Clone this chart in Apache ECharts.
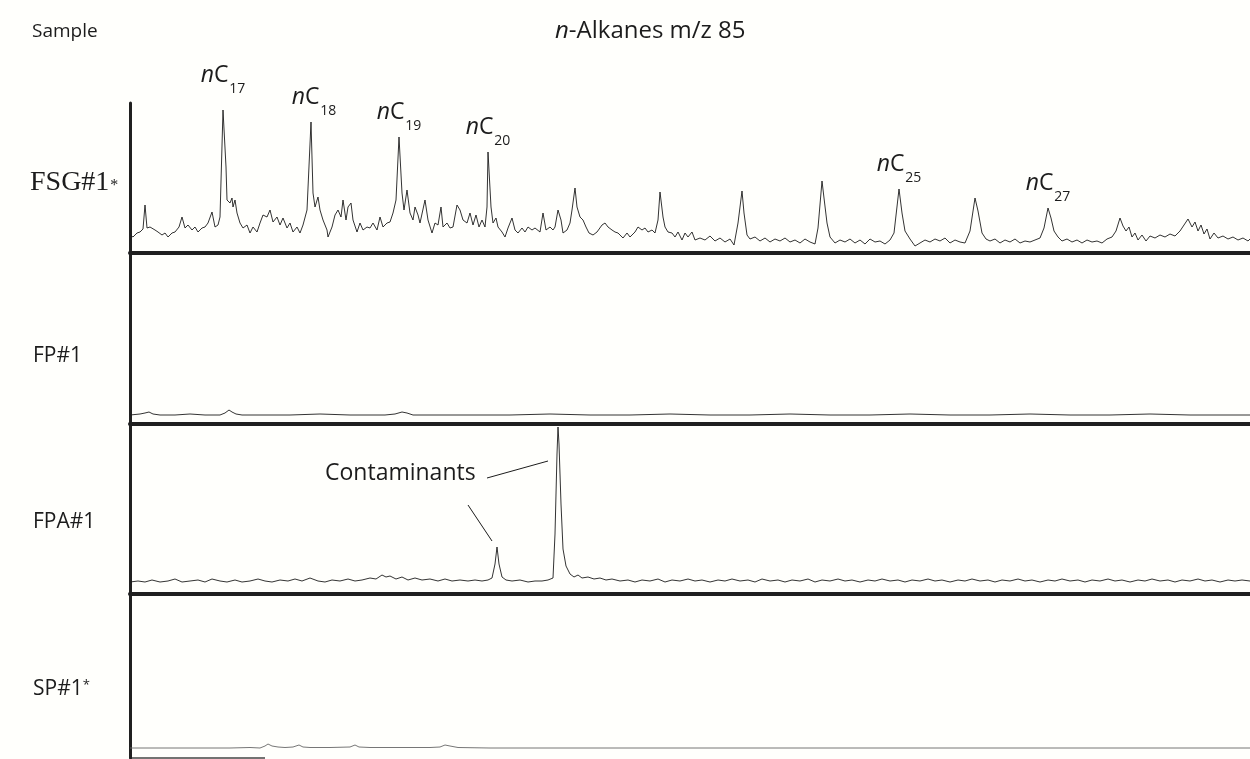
<!DOCTYPE html>
<html>
<head>
<meta charset="utf-8">
<title>n-Alkanes m/z 85</title>
<script src="https://cdn.jsdelivr.net/npm/echarts@6.0.0/dist/echarts.min.js"></script>
<style>
  html, body { margin: 0; padding: 0; background: #fffffc; }
  #chart { width: 1250px; height: 759px; }
</style>
</head>
<body>
<div id="chart"></div>
<script>
// [scan position, m/z 85 abundance]
const fsgTrace = [[0,18],[3,16],[7,20],[10,21],[13,24],[15,48],[17,25],[20,26],[25,23],[28,21],[32,18],[35,20],[38,16],[42,20],[45,21],[49,26],[52,36],[55,25],[58,28],[62,23],[65,26],[68,21],[72,25],[75,26],[78,30],[82,41],[85,26],[88,28],[90,36],[93,143],[96,86],[97,53],[100,50],[102,55],[103,46],[105,53],[107,40],[110,30],[113,25],[117,28],[120,20],[123,26],[127,21],[130,30],[133,38],[137,36],[140,43],[143,31],[147,36],[150,28],[153,35],[157,25],[160,30],[163,21],[167,26],[170,20],[173,28],[177,43],[181,131],[183,60],[185,46],[188,56],[190,43],[193,33],[197,23],[198,16],[202,26],[205,38],[208,43],[211,36],[213,53],[216,33],[218,46],[221,50],[223,33],[227,21],[230,30],[233,23],[237,26],[240,25],[243,30],[247,23],[250,36],[253,26],[257,30],[260,31],[263,40],[266,53],[269,116],[272,60],[274,43],[277,63],[280,40],[283,33],[285,46],[288,38],[290,30],[295,53],[298,33],[302,20],[305,30],[308,28],[311,46],[313,26],[317,30],[320,25],[323,26],[327,48],[330,43],[333,33],[337,30],[340,40],[343,28],[346,38],[349,26],[352,33],[355,26],[357,46],[358,101],[361,46],[363,30],[366,35],[368,26],[372,21],[375,16],[378,25],[382,35],[385,23],[388,20],[392,25],[395,21],[398,26],[402,23],[405,25],[410,21],[413,40],[416,23],[420,26],[423,23],[425,26],[428,43],[431,33],[433,20],[437,23],[440,30],[442,43],[445,65],[447,46],[450,36],[453,33],[456,26],[459,20],[463,18],[467,21],[472,28],[475,30],[478,26],[482,23],[485,21],[488,20],[493,15],[497,20],[500,16],[505,21],[508,26],[512,23],[515,25],[518,21],[522,23],[525,20],[528,33],[530,61],[533,36],[535,26],[538,21],[542,20],[545,16],[548,21],[552,13],[555,20],[558,16],[562,21],[565,13],[570,15],[575,13],[580,17],[585,12],[590,15],[595,11],[600,14],[604,8],[608,30],[612,62],[614,40],[617,18],[620,14],[625,16],[630,12],[635,15],[640,11],[645,14],[650,12],[655,15],[660,11],[665,13],[670,10],[675,14],[680,11],[685,9],[688,25],[692,72],[694,55],[697,30],[700,16],[705,10],[710,13],[715,11],[720,14],[725,10],[730,13],[735,9],[740,14],[745,11],[750,12],[755,9],[760,13],[764,20],[769,64],[772,40],[775,22],[780,14],[785,7],[790,10],[795,13],[800,11],[805,14],[810,12],[815,15],[820,10],[825,13],[830,11],[835,10],[840,22],[845,55],[848,42],[852,20],[856,14],[860,12],[865,14],[870,10],[875,13],[880,11],[885,14],[890,10],[895,12],[900,11],[905,13],[910,15],[914,25],[918,45],[921,35],[924,22],[928,16],[932,12],[937,14],[942,11],[947,13],[952,10],[957,13],[962,11],[967,12],[972,10],[977,14],[982,16],[986,22],[990,35],[993,27],[996,22],[999,26],[1002,16],[1005,20],[1008,13],[1012,18],[1016,12],[1020,17],[1025,15],[1030,18],[1035,16],[1040,19],[1045,17],[1050,22],[1054,28],[1058,34],[1062,26],[1065,31],[1068,22],[1071,28],[1074,19],[1077,24],[1080,14],[1084,20],[1088,15],[1093,17],[1098,14],[1103,16],[1108,13],[1113,15],[1118,12],[1120,14]];

const fpTrace = [[0,9],[10,10],[15,11],[19,12],[23,10],[30,9],[45,9],[60,10],[75,9],[90,9],[95,11],[99,14],[102,12],[106,10],[112,9],[130,9],[160,9],[190,10],[220,9],[255,9],[265,10],[272,12],[277,11],[283,9],[300,9],[340,9],[380,9],[420,10],[460,9],[500,9],[540,10],[580,9],[620,9],[660,10],[700,9],[740,9],[780,10],[820,9],[860,9],[900,10],[940,9],[980,9],[1020,10],[1060,9],[1100,9],[1120,9]];

const fpaTrace = [[0,12],[8,13],[15,12],[22,14],[30,12],[38,13],[45,15],[52,12],[60,13],[68,14],[75,12],[82,15],[90,13],[97,12],[105,14],[112,12],[120,13],[128,15],[135,13],[142,12],[150,14],[158,13],[165,15],[172,13],[180,16],[188,13],[195,12],[202,14],[210,13],[218,15],[225,13],[232,14],[240,16],[246,15],[252,19],[256,17],[260,18],[266,15],[272,17],[278,14],[285,16],[292,14],[300,15],[308,13],[315,15],[322,13],[330,14],[338,13],[345,14],[352,13],[358,14],[362,16],[365,30],[367,47],[369,30],[372,17],[376,14],[382,13],[390,14],[398,12],[405,13],[412,13],[418,14],[423,16],[425,60],[427,140],[428,167],[429,150],[431,90],[433,45],[436,28],[440,20],[444,17],[448,19],[452,16],[458,17],[464,15],[470,16],[476,14],[482,15],[490,13],[498,14],[505,12],[512,14],[520,13],[528,15],[535,12],[542,14],[550,13],[558,15],[565,13],[572,14],[580,12],[588,14],[595,13],[602,15],[610,13],[618,14],[625,12],[632,15],[640,13],[648,14],[655,12],[662,14],[670,13],[678,15],[685,12],[692,14],[700,13],[708,15],[715,13],[722,14],[730,12],[738,14],[745,13],[752,15],[760,13],[768,14],[775,12],[782,14],[790,13],[798,15],[805,13],[812,14],[820,12],[828,14],[835,13],[842,15],[850,13],[858,14],[865,12],[872,14],[880,13],[888,15],[895,13],[902,14],[910,12],[918,14],[925,13],[932,15],[940,13],[948,14],[955,12],[962,14],[970,13],[978,15],[985,13],[992,14],[1000,12],[1008,14],[1015,13],[1022,15],[1030,13],[1038,14],[1045,12],[1052,14],[1060,13],[1068,15],[1075,13],[1082,14],[1090,12],[1098,14],[1105,13],[1112,14],[1120,13]];

const spTrace = [[0,10],[60,10],[100,10],[120,10.5],[130,10],[135,12],[138,14],[142,12],[148,11],[155,10.5],[163,11],[169,13],[173,11],[180,10.5],[200,10.5],[220,11],[225,13],[229,11],[240,10.5],[270,10.5],[300,10.5],[310,11],[315,13],[320,12],[328,10.5],[360,10],[500,10],[700,10],[900,10],[1120,10]];

const sampleNames = ['FSG#1', 'FP#1', 'FPA#1', 'SP#1'];
const alkaneCarbons = ['17', '18', '19', '20', '25', '27'];
const alkanePeakPos = [93, 181, 269, 358, 769, 918];

const traces = [fsgTrace, fpTrace, fpaTrace, spTrace];
const panelTop = [103, 253, 424, 594];
const panelHeight = [150, 171, 170, 164];
const sans = '"Open Sans", "Noto Sans", sans-serif';
const ink = '#1c1c1c';

const chart = echarts.init(document.getElementById('chart'));

const grids = panelTop.map((t, i) => ({ left: 130, right: 0, top: t, height: panelHeight[i] }));
const xAxes = grids.map((g, i) => ({
  type: 'value', gridIndex: i, min: 0, max: 1120,
  axisLine: { show: i < 3, onZero: false, lineStyle: { color: '#202020', width: 4 } },
  axisTick: { show: false }, axisLabel: { show: false }, splitLine: { show: false }
}));
const yAxes = grids.map((g, i) => ({
  type: 'value', gridIndex: i, min: 0, max: panelHeight[i],
  axisLine: { show: true, lineStyle: { color: '#202020', width: 3 } },
  axisTick: { show: false }, axisLabel: { show: false }, splitLine: { show: false }
}));

const series = traces.map((d, i) => ({
  type: 'line', xAxisIndex: i, yAxisIndex: i, data: d,
  showSymbol: false, silent: true,
  lineStyle: { color: i === 3 ? '#666' : ink, width: 0.9 }
}));

// n-alkane labels on FSG#1 peaks
series[0].markPoint = {
  symbol: 'circle', symbolSize: 1, silent: true,
  itemStyle: { color: 'rgba(0,0,0,0)' },
  label: {
    show: true, position: 'top', distance: 13,
    formatter: p => '{n|n}{c|C}{s|' + p.name + '}',
    rich: {
      n: { fontFamily: sans, fontStyle: 'italic', fontSize: 23, lineHeight: 23, verticalAlign: 'top', color: ink },
      c: { fontFamily: sans, fontSize: 23, lineHeight: 23, verticalAlign: 'top', color: ink },
      s: { fontFamily: sans, fontSize: 14, lineHeight: 14, verticalAlign: 'top', padding: [19, 0, 0, 1], color: ink }
    }
  },
  data: alkaneCarbons.map((c, i) => {
    const x = alkanePeakPos[i];
    const item = { name: c, coord: [x, fsgTrace.find(p => p[0] === x)[1]] };
    if (i === 0) item.label = { offset: [0, -10] };
    if (i === 1) item.label = { offset: [3, 0] };
    return item;
  })
};

// leader lines from the Contaminants label to the two FPA#1 peaks
series[2].markLine = {
  silent: true, symbol: ['none', 'none'],
  label: { show: false },
  lineStyle: { color: ink, width: 1, type: 'solid' },
  data: [
    [{ coord: [357, 116] }, { coord: [418, 133] }],
    [{ coord: [338, 89] }, { coord: [362, 53] }]
  ]
};

const nameTops = [169, 346, 512, 679];
const graphic = [
  { type: 'text', left: 32, top: 22, style: { text: 'Sample', fontFamily: sans, fontSize: 19, fill: ink } },
  { type: 'text', left: 555, top: 19, style: {
      text: '{i|n}-Alkanes m/z 85', fontFamily: sans, fontSize: 24, fill: ink,
      rich: { i: { fontFamily: sans, fontStyle: 'italic', fontSize: 24 } } } },
  { type: 'text', left: 30, top: nameTops[0], style: {
      text: sampleNames[0] + '{a|*}', fontFamily: '"Liberation Serif", serif', fontSize: 28, fill: ink,
      rich: { a: { fontFamily: '"Liberation Serif", serif', fontSize: 16, padding: [6, 0, 0, 1] } } } },
  { type: 'text', left: 33, top: nameTops[1], style: { text: sampleNames[1], fontFamily: sans, fontSize: 21, fill: ink } },
  { type: 'text', left: 33, top: nameTops[2], style: { text: sampleNames[2], fontFamily: sans, fontSize: 21, fill: ink } },
  { type: 'text', left: 33, top: nameTops[3], style: {
      text: sampleNames[3] + '{a|*}', fontFamily: sans, fontSize: 21, fill: ink,
      rich: { a: { fontFamily: sans, fontSize: 13, verticalAlign: 'top', lineHeight: 13 } } } },
  { type: 'text', left: 325, top: 462, style: { text: 'Contaminants', fontFamily: sans, fontSize: 23, fill: ink } },
  { type: 'line', shape: { x1: 130, y1: 758, x2: 265, y2: 758 }, style: { stroke: '#444', lineWidth: 1.5 } }
];

chart.setOption({
  backgroundColor: '#fffffc',
  animation: false,
  grid: grids,
  xAxis: xAxes,
  yAxis: yAxes,
  series: series,
  graphic: graphic
});
</script>
</body>
</html>
